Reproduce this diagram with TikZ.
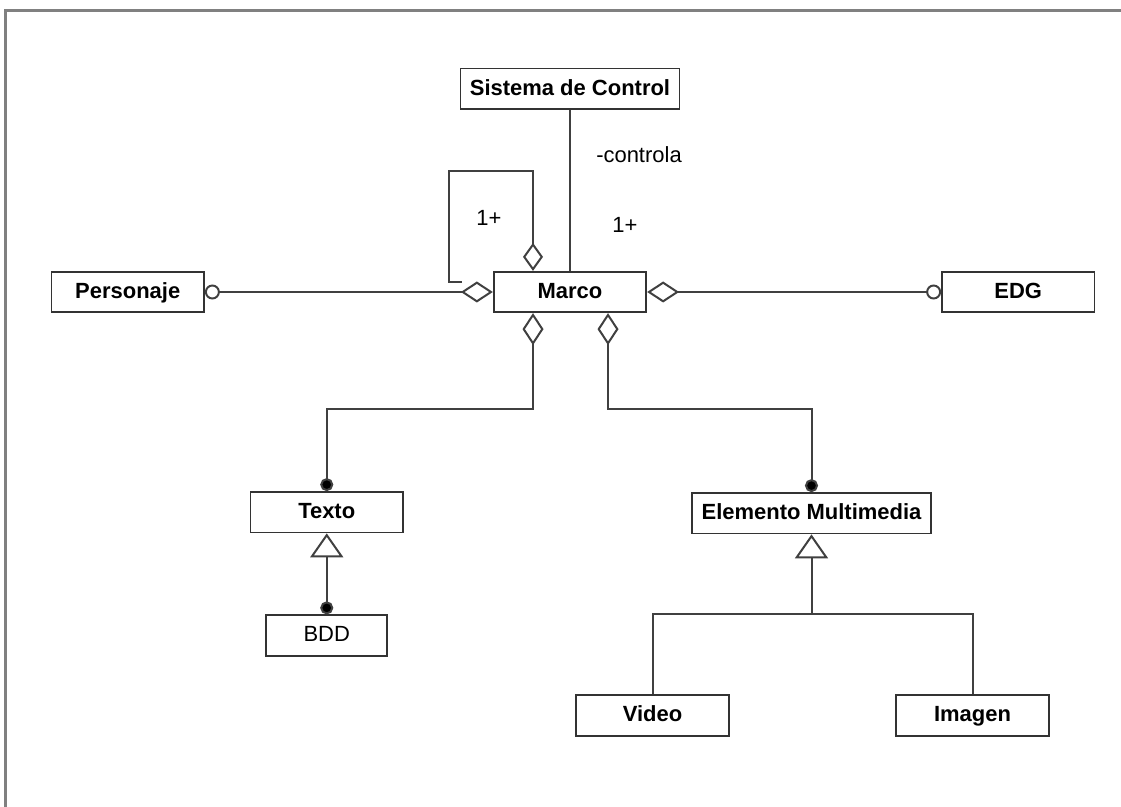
\documentclass[tikz,border=0pt]{standalone}
\usepackage{fontspec}
\setmainfont{Liberation Sans}
\usetikzlibrary{arrows.meta,positioning}

\begin{document}
\begin{tikzpicture}[
  font=\fontsize{12.5}{14}\selectfont,
  box/.style={draw=black!80, line width=0.35mm, fill=white, font=\fontsize{12.5}{14}\selectfont\bfseries,
    minimum width=30.5mm, minimum height=8.1mm, inner sep=2pt, text height=1.38ex, text depth=0pt},
  lbl/.style={inner sep=1pt},
  link/.style={draw=black!75, line width=0.4mm},
  frame/.style={draw=black!50, line width=0.6mm},
  UDiam/.tip={Diamond[open, length=6.4mm, width=4.2mm]},
  ULoop/.tip={Diamond[open, length=5.6mm, width=4mm]},
  URing/.tip={Circle[open, length=3mm]},
  UDot/.tip={Circle[length=2.6mm, fill=black]},
  UGen/.tip={Triangle[open, length=4.8mm, width=6.6mm]}
]
\useasboundingbox (0,0) rectangle (224.2mm,-161.4mm);
\draw[frame] (1mm,-161.4mm) -- (1mm,-2.2mm) -- (224.2mm,-2.2mm);

\node[box] (marco) at (114mm,-58.4mm) {Marco};
\node[box, above=32.2mm of marco, minimum width=43.8mm] (sis) {Sistema de Control};
\node[box, left=57.6mm of marco] (pers) {Personaje};
\node[box, right=58.8mm of marco] (edg) {EDG};
\node[box, below left=35.6mm and 17.8mm of marco] (texto) {Texto};
\node[box, below=16.2mm of texto, minimum width=24.2mm, font=\fontsize{12.5}{14}\selectfont] (bdd) {BDD};
\node[box, below right=35.8mm and 8.8mm of marco, minimum width=47.8mm] (elem) {Elemento Multimedia};
\node[box, below=32mm of elem, xshift=-31.8mm] (video) {Video};
\node[box, below=32mm of elem, xshift=32.2mm] (imagen) {Imagen};

\draw[link] (sis) -- (marco);
\node[lbl] (ctl) at ([xshift=13.8mm,yshift=-9mm]sis.south) {-controla};
\node[lbl] (mult) at ([xshift=11mm,yshift=9.2mm]marco.north) {1+};
\node[lbl] (multloop) at ([xshift=-16.2mm,yshift=10.6mm]marco.north) {1+};

\draw[link, -ULoop] ([xshift=-6.2mm,yshift=2mm]marco.west) -- ++(-2.6mm,0)
  |- ([xshift=-7.4mm,yshift=20mm]marco.north) -- ([xshift=-7.4mm]marco.north);
\draw[link, URing-UDiam] (pers) -- (marco);
\draw[link, UDiam-URing] (marco) -- (edg);
\draw[link, UDiam-UDot] ([xshift=-7.4mm]marco.south) -- ++(0,-19.2mm) -| (texto.north);
\draw[link, UDiam-UDot] ([xshift=7.6mm]marco.south) -- ++(0,-19.2mm) -| (elem.north);
\draw[link, UGen-UDot] (texto) -- (bdd);
\draw[link, UGen-] (elem.south) -- ++(0,-16mm) coordinate (split);
\draw[link] (split) -| (video);
\draw[link] (split) -| (imagen);
\end{tikzpicture}
\end{document}
